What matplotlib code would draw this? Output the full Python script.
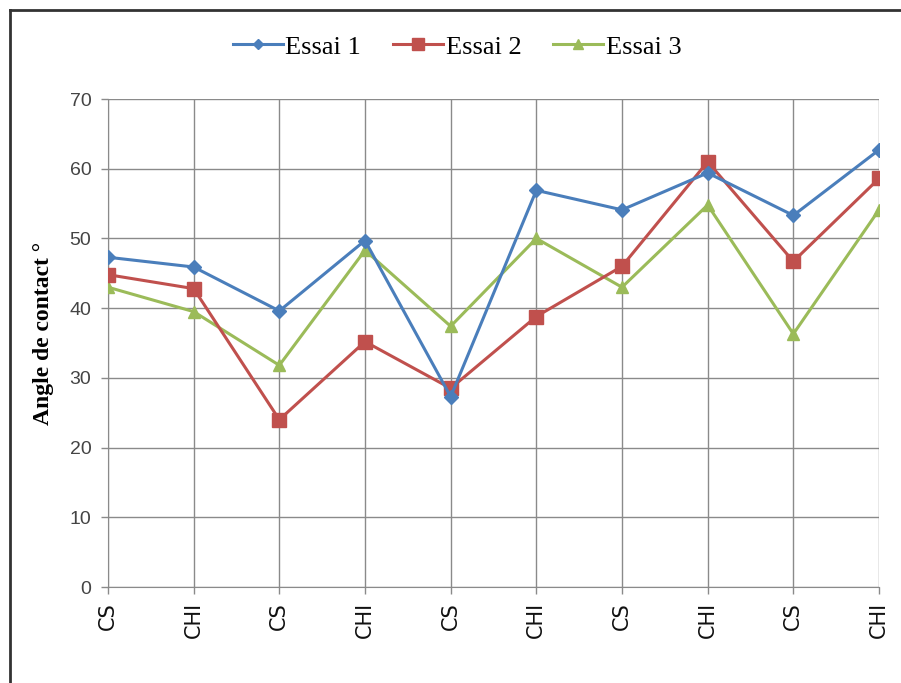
import matplotlib
matplotlib.use("Agg")
import matplotlib.pyplot as plt
from matplotlib.lines import Line2D

categories = ["CS", "CHI", "CS", "CHI", "CS", "CHI", "CS", "CHI", "CS", "CHI"]
essai1 = [47.3, 45.9, 39.6, 49.7, 27.3, 56.9, 54.1, 59.4, 53.3, 62.7]
essai2 = [44.8, 42.8, 24.0, 35.2, 28.5, 38.8, 46.0, 61.0, 46.7, 58.6]
essai3 = [43.0, 39.5, 31.8, 48.3, 37.4, 50.0, 43.0, 54.8, 36.3, 54.1]
series_names = ["Essai 1", "Essai 2", "Essai 3"]
yticks = [0, 10, 20, 30, 40, 50, 60, 70]

fig = plt.figure(figsize=(9.01, 6.83), dpi=100)
ax = fig.add_axes([108/901, 1-587/683, (879-108)/901, (587-99)/683])

x = list(range(len(categories)))
c1, c2, c3 = "#4A7EBB", "#C0504D", "#9BBB59"
ax.plot(x, essai1, color=c1, lw=2.2, marker="D", ms=7, label=series_names[0], zorder=5)
ax.plot(x, essai2, color=c2, lw=2.2, marker="s", ms=10, label=series_names[1], zorder=4)
ax.plot(x, essai3, color=c3, lw=2.2, marker="^", ms=9, label=series_names[2], zorder=3)

ax.set_xlim(0, 9)
ax.set_ylim(0, 70)
ax.set_yticks(yticks)
ax.set_xticks(x)
ax.set_xticklabels(categories, rotation=90, fontsize=15, family="DejaVu Sans", color="#111111")
for lab in ax.get_yticklabels():
    lab.set_fontsize(14)
    lab.set_color("#444444")
    lab.set_family("Liberation Sans")
ax.grid(True, color="#8a8a8a", lw=1.0)
ax.set_axisbelow(True)
for s in ["top", "right"]:
    ax.spines[s].set_visible(False)
for s in ["left", "bottom"]:
    ax.spines[s].set_color("#8a8a8a")
ax.tick_params(axis="both", colors="#8a8a8a", length=5, width=1.0)
ax.tick_params(axis="y", labelcolor="#444444", pad=7)
ax.tick_params(axis="x", labelcolor="#111111", pad=6)

ax.set_ylabel("Angle de contact °", family="Liberation Serif", fontweight="bold",
              fontsize=17)
ax.yaxis.set_label_coords(-0.070, 0.52)

leg = fig.legend(loc="center", bbox_to_anchor=(457/901, 1-47/683), ncol=3, frameon=False,
                 prop={"family": "Liberation Serif", "size": 19}, handlelength=1.9,
                 columnspacing=1.2, handletextpad=0.1, markerscale=0.8)

# frame border
fig.add_artist(Line2D([0.011, 0.011], [0, 0.985], transform=fig.transFigure, color="#333333", lw=2))
fig.add_artist(Line2D([0.011, 1.0], [0.985, 0.985], transform=fig.transFigure, color="#333333", lw=2))

fig.savefig("out.png", dpi=100)
